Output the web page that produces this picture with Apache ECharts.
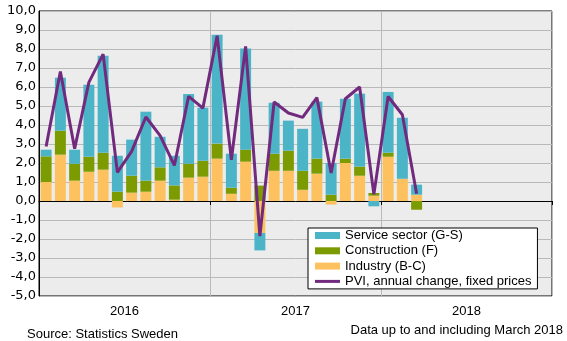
<!DOCTYPE html>
<html>
<head>
<meta charset="utf-8">
<script src="https://cdn.jsdelivr.net/npm/echarts@6/dist/echarts.min.js"></script>
<style>
html,body{margin:0;padding:0;background:#fff;}
#chart{width:567px;height:341px;}
</style>
</head>
<body>
<div id="chart"></div>
<script>
// Months Jan 2016 – Dec 2018 (axis categories)
const months = [
  '2016-01','2016-02','2016-03','2016-04','2016-05','2016-06','2016-07','2016-08','2016-09','2016-10','2016-11','2016-12',
  '2017-01','2017-02','2017-03','2017-04','2017-05','2017-06','2017-07','2017-08','2017-09','2017-10','2017-11','2017-12',
  '2018-01','2018-02','2018-03','2018-04','2018-05','2018-06','2018-07','2018-08','2018-09','2018-10','2018-11','2018-12'
];
const yearLabels = ['2016', '2017', '2018'];

// Contributions (percentage points), Jan 2016 – Mar 2018
const industry = [1.00, 2.44, 1.07, 1.54, 1.65, -0.34, 0.44, 0.49, 1.07, 0.07, 1.23, 1.28,
                  2.23, 0.38, 2.07, -1.68, 1.59, 1.59, 0.59, 1.44, -0.19, 2.00, 1.33, 0.28,
                  2.33, 1.17, 0.33];
const construction = [1.35, 1.26, 0.89, 0.79, 0.89, 0.49, 0.89, 0.58, 0.70, 0.75, 0.73, 0.84,
                      0.79, 0.32, 0.63, 0.81, 0.90, 1.06, 1.00, 0.79, 0.33, 0.23, 0.48, 0.14,
                      0.21, 0.00, -0.46];
const service = [0.35, 2.79, 0.74, 3.79, 5.11, 1.89, 1.90, 3.63, 1.61, 1.56, 3.67, 2.79,
                 5.73, 1.79, 5.32, -0.92, 2.68, 1.58, 2.21, 3.00, 1.67, 3.15, 3.84, -0.28,
                 3.20, 3.21, 0.53];
// PVI, annual change, fixed prices (%)
const pvi = [2.87, 6.82, 2.75, 6.24, 7.73, 1.51, 2.61, 4.42, 3.44, 1.87, 5.51, 4.89,
             8.70, 2.17, 8.14, -1.85, 5.21, 4.63, 4.40, 5.44, 1.47, 5.38, 6.00, 0.35,
             5.50, 4.54, 0.38];

const FONT = 'Liberation Sans, Arial, sans-serif';
const chart = echarts.init(document.getElementById('chart'), null, {renderer: 'canvas'});

chart.setOption({
  animation: false,
  backgroundColor: '#ffffff',
  textStyle: {fontFamily: FONT},
  grid: {
    left: 39, right: 15, top: 11, bottom: 45,
    show: true, backgroundColor: '#ececec', borderColor: '#000', borderWidth: 1
  },
  legend: {
    orient: 'vertical',
    left: 308, top: 228,
    padding: [0, 6, 0, 7],
    backgroundColor: '#ffffff',
    borderColor: '#000', borderWidth: 1,
    itemWidth: 25, itemHeight: 7, itemGap: 0.3,
    symbolKeepAspect: true,
    textStyle: {fontFamily: FONT, fontSize: 13, color: '#000', lineHeight: 15},
    data: [
      {name: 'Service sector (G-S)', icon: 'rect'},
      {name: 'Construction (F)', icon: 'rect'},
      {name: 'Industry (B-C)', icon: 'rect'},
      {name: 'PVI, annual change, fixed prices', icon: 'path://M0,0 L25,0 L25,3 L0,3 Z'}
    ]
  },
  xAxis: [
    {
      type: 'category', data: months, boundaryGap: true,
      axisLine: {onZero: true, lineStyle: {color: '#000', width: 1}},
      axisTick: {show: true, length: 4, interval: (i) => i % 12 === 0, lineStyle: {color: '#000'}},
      axisLabel: {show: false},
      splitLine: {show: true, interval: (i) => i % 12 === 0, lineStyle: {color: '#b9b9b9', width: 1}}
    },
    {
      type: 'category', data: yearLabels, position: 'bottom', boundaryGap: true,
      axisLine: {show: false, onZero: false},
      axisTick: {show: false},
      splitLine: {show: false},
      axisLabel: {margin: 9, fontFamily: FONT, fontSize: 13, color: '#000'}
    }
  ],
  yAxis: {
    type: 'value', min: -5, max: 10, interval: 1,
    axisLine: {show: true, lineStyle: {color: '#000'}},
    axisTick: {show: false},
    axisLabel: {
      margin: 3, fontFamily: 'DejaVu Sans, sans-serif', fontSize: 13, color: '#000',
      formatter: (v) => v.toFixed(1).replace('.', ',')
    },
    splitLine: {show: true, lineStyle: {color: '#b9b9b9', width: 1}}
  },
  series: [
    {name: 'Industry (B-C)', type: 'bar', stack: 'c', data: industry, barCategoryGap: '23%',
     itemStyle: {color: '#fdc160'}},
    {name: 'Construction (F)', type: 'bar', stack: 'c', data: construction,
     itemStyle: {color: '#7b9b00'}},
    {name: 'Service sector (G-S)', type: 'bar', stack: 'c', data: service,
     itemStyle: {color: '#4cb4c7'}},
    {name: 'PVI, annual change, fixed prices', type: 'line', data: pvi, symbol: 'none',
     z: 5, lineStyle: {color: '#712a7e', width: 3}, itemStyle: {color: '#712a7e'}}
  ],
  graphic: [
    {type: 'text', left: 27, top: 328,
     style: {text: 'Source: Statistics Sweden', fontFamily: FONT, fontSize: 13, fill: '#000'}},
    {type: 'text', right: 4, top: 324,
     style: {text: 'Data up to and including March 2018', fontFamily: FONT, fontSize: 13, fill: '#000'}}
  ]
});
</script>
</body>
</html>
